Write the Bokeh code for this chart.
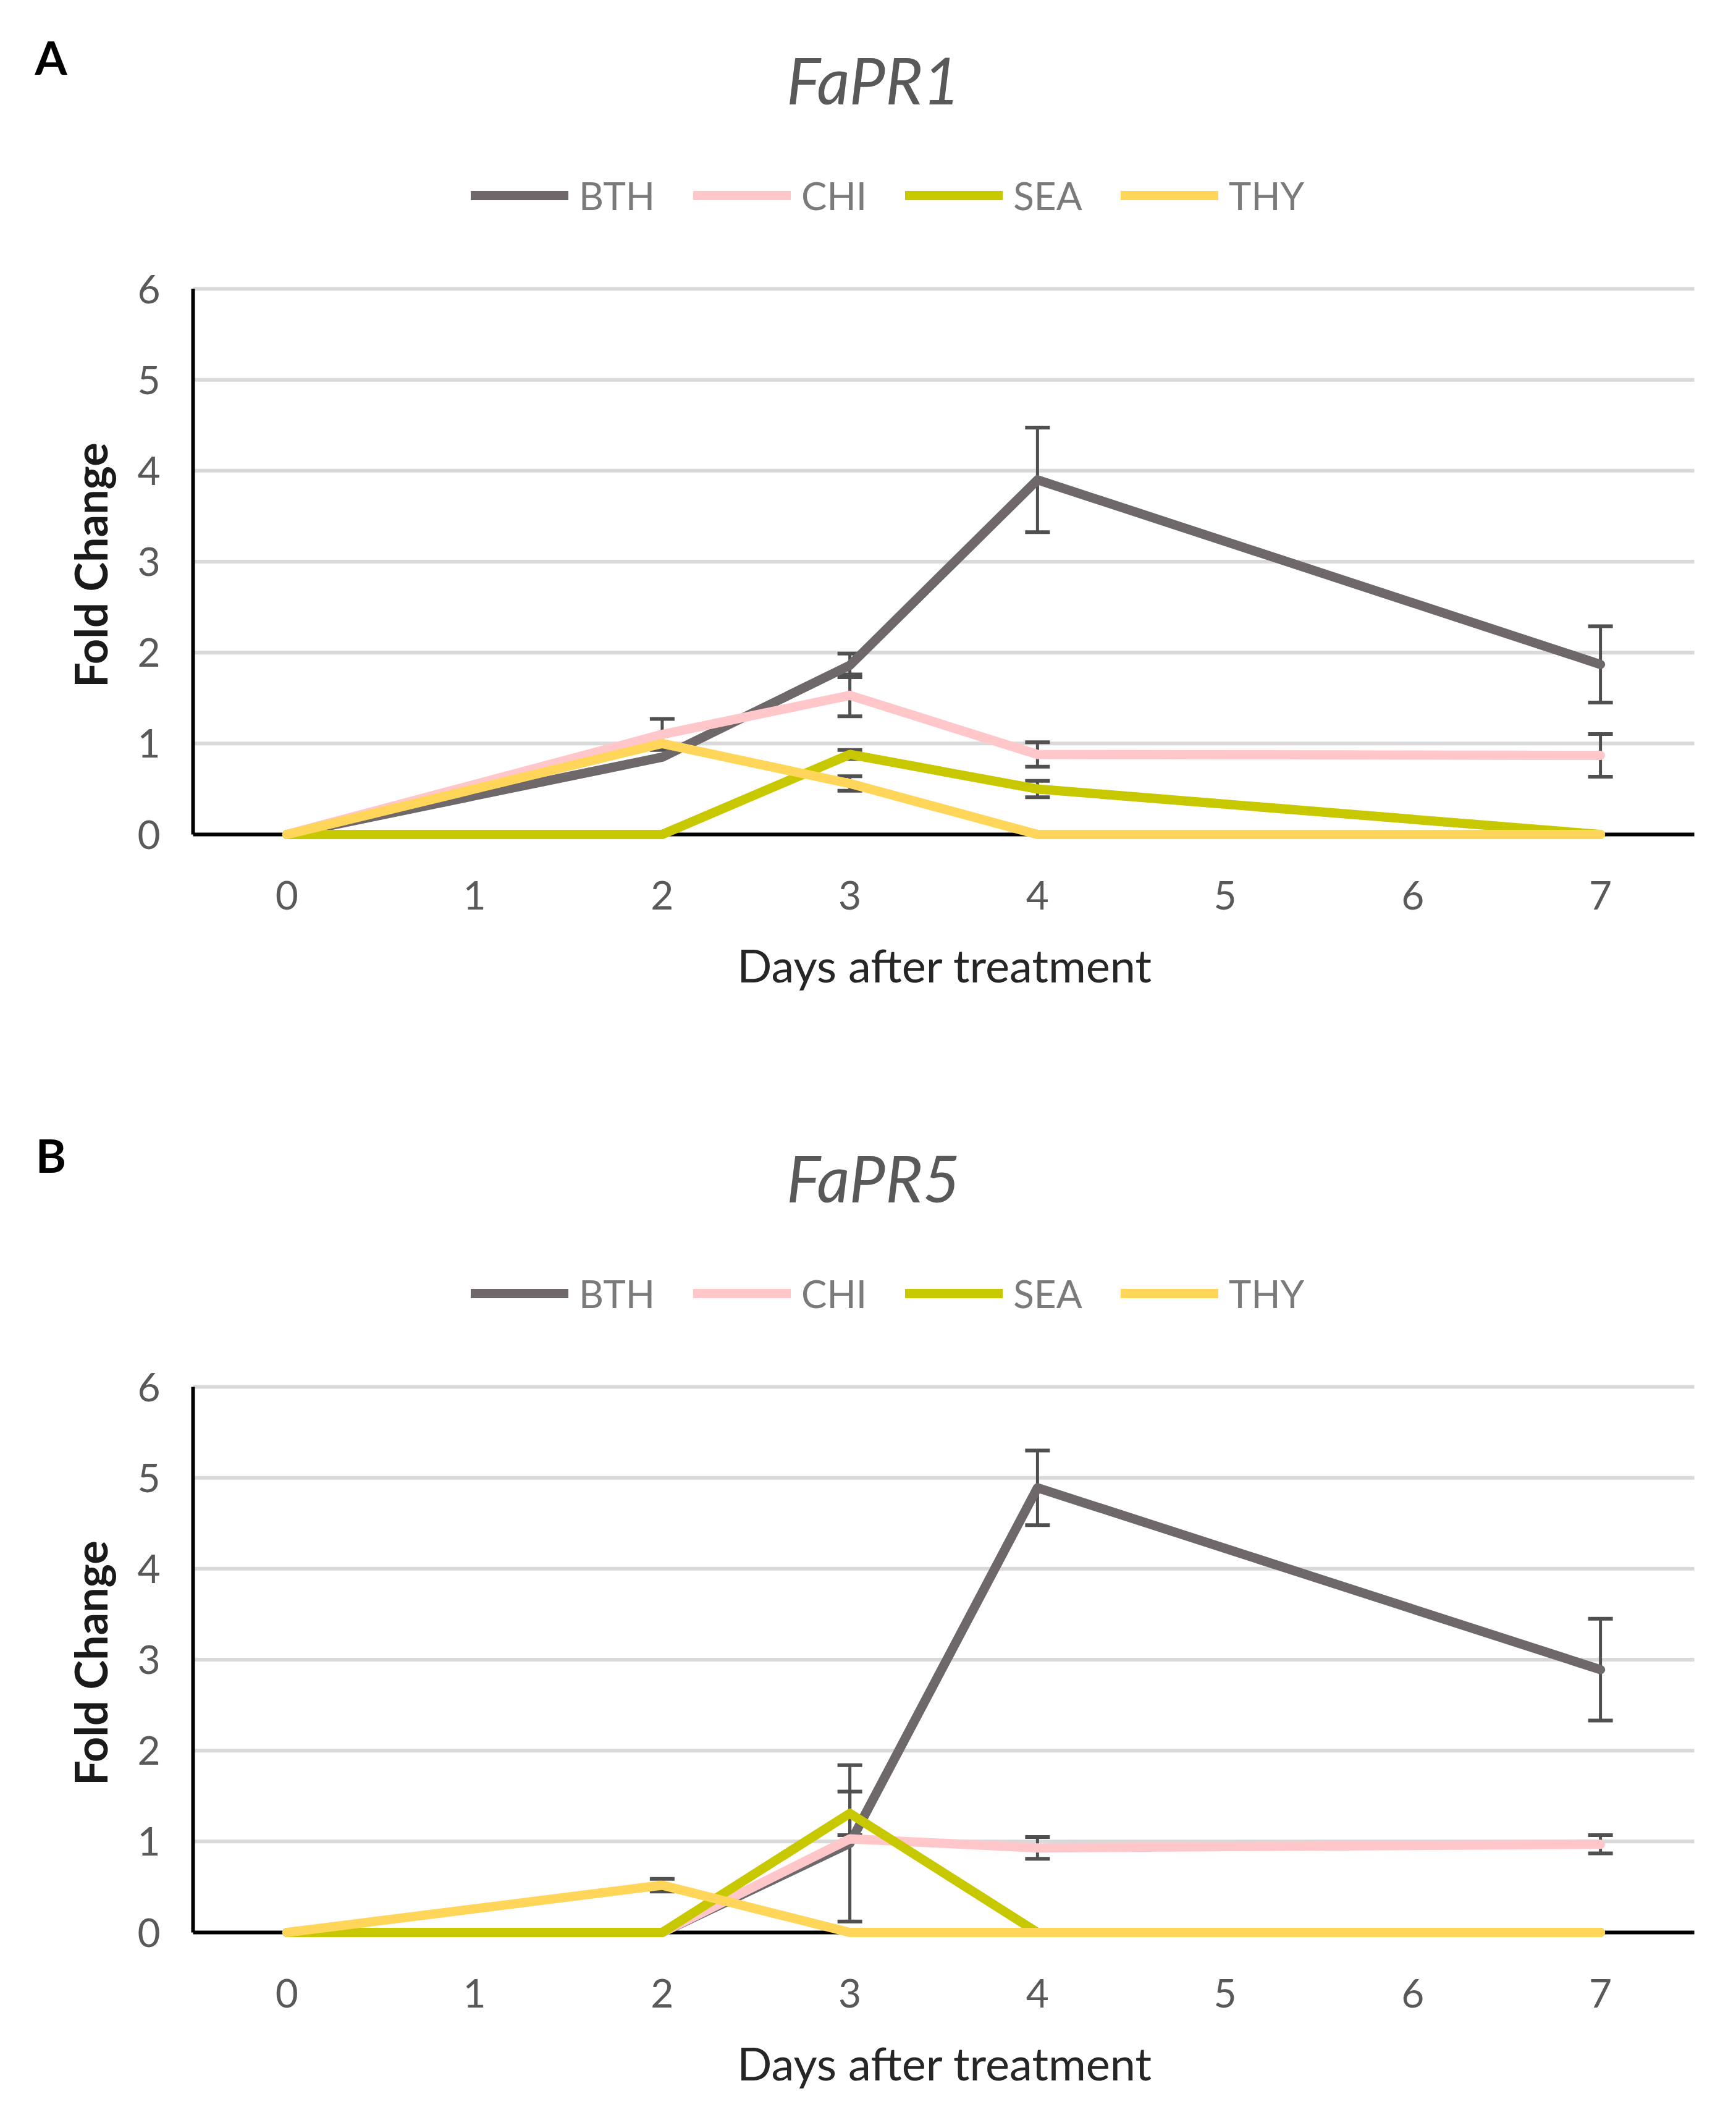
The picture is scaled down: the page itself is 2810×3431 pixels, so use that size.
import math
from bokeh.plotting import figure
from bokeh.models import (ColumnDataSource, Whisker, TeeHead, Label, Legend,
                          LegendItem, FixedTicker, Range1d)
from bokeh.layouts import column
from bokeh.embed import file_html
from bokeh.resources import INLINE

# ---------------- data ----------------
days = [0, 2, 3, 4, 7]
day_ticks = [0, 1, 2, 3, 4, 5, 6, 7]
fold_ticks = [0, 1, 2, 3, 4, 5, 6]
series_names = ["BTH", "CHI", "SEA", "THY"]
series_colors = ["#6e686a", "#ffc7c9", "#c8c800", "#ffd55a"]

# FaPR1 (panel A)
pr1_bth = [0, 0.85, 1.86, 3.90, 1.87]
pr1_bth_err = [0, 0, 0.13, 0.575, 0.42]
pr1_chi = [0, 1.10, 1.53, 0.88, 0.87]
pr1_chi_err = [0, 0.17, 0.23, 0.135, 0.235]
pr1_sea = [0, 0, 0.88, 0.50, 0]
pr1_sea_err = [0, 0, 0.05, 0.09, 0]
pr1_thy = [0, 1.00, 0.56, 0, 0]
pr1_thy_err = [0, 0, 0.08, 0, 0]

# FaPR5 (panel B)
pr5_bth = [0, 0, 0.98, 4.89, 2.89]
pr5_bth_err = [0, 0, 0.86, 0.41, 0.56]
pr5_chi = [0, 0, 1.03, 0.93, 0.97]
pr5_chi_err = [0, 0, 0, 0.12, 0.10]
pr5_sea = [0, 0, 1.31, 0, 0]
pr5_sea_err = [0, 0, 0.24, 0, 0]
pr5_thy = [0, 0.52, 0, 0, 0]
pr5_thy_err = [0, 0.07, 0, 0, 0]

# ---------------- layout constants (pixels) ----------------
FONT = "Lato"
W = 2794
X_LO, X_HI = -0.5, 7.5          # category axis extent
AX_LEFT_PX, AX_RIGHT_PX = 312, 2742
Y_TOP_PX, Y_ZERO_PX = 467, 1350  # pixel rows of y=6 and y=0
LINE_W = 15


def make_panel(letter, gene, values, errors, height):
    px_x = (AX_RIGHT_PX - AX_LEFT_PX) / (X_HI - X_LO)
    px_y = (Y_ZERO_PX - Y_TOP_PX) / (fold_ticks[-1] - fold_ticks[0])
    x_start = X_LO - AX_LEFT_PX / px_x
    x_end = x_start + W / px_x
    y_end = fold_ticks[-1] + Y_TOP_PX / px_y
    y_start = -(height - Y_ZERO_PX) / px_y

    p = figure(width=W, height=height,
               x_range=Range1d(x_start, x_end), y_range=Range1d(y_start, y_end),
               output_backend="svg", toolbar_location=None, title=None,
               min_border=0)
    p.outline_line_color = None
    p.grid.visible = False

    # horizontal gridlines and the zero baseline
    p.segment(x0=X_LO, x1=X_HI, y0=fold_ticks[1:], y1=fold_ticks[1:],
              line_color="#d9d9d9", line_width=6, level="underlay")
    p.segment(x0=X_LO, x1=X_HI, y0=[0], y1=[0],
              line_color="black", line_width=6, level="underlay")

    # axes fixed inside the canvas
    p.xaxis.fixed_location = 0
    p.yaxis.fixed_location = X_LO
    p.xaxis.ticker = FixedTicker(ticks=day_ticks)
    p.yaxis.ticker = FixedTicker(ticks=fold_ticks)
    p.xaxis.bounds = (X_LO, X_HI)
    p.yaxis.bounds = (fold_ticks[0], fold_ticks[-1])
    p.xaxis.axis_line_color = None
    p.yaxis.axis_line_color = "black"
    p.yaxis.axis_line_width = 6
    for ax in (p.xaxis[0], p.yaxis[0]):
        ax.major_tick_line_color = None
        ax.minor_tick_line_color = None
        ax.major_label_text_font = FONT
        ax.major_label_text_font_size = "64px"
        ax.major_label_text_color = "#595959"
    p.xaxis.major_label_standoff = 69
    p.yaxis.major_label_standoff = 47

    # axis titles
    p.add_layout(Label(x=1529, y=height - 1561, x_units="screen", y_units="screen",
                       text="Days after treatment", text_font=FONT,
                       text_font_size="74px", text_color="#262626",
                       text_align="center", text_baseline="middle"))
    p.add_layout(Label(x=145, y=height - 914, x_units="screen", y_units="screen",
                       text="Fold Change", text_font=FONT, angle=math.pi / 2,
                       text_font_size="72px", text_font_style="bold",
                       text_color="#1a1a1a", text_align="center",
                       text_baseline="middle"))

    # panel letter and gene title
    p.add_layout(Label(x=82, y=height - 91, x_units="screen", y_units="screen",
                       text=letter, text_font=FONT, text_font_size="75px",
                       text_font_style="bold", text_color="black",
                       text_align="center", text_baseline="middle"))
    p.add_layout(Label(x=1413, y=height - 128, x_units="screen", y_units="screen",
                       text=gene, text_font=FONT, text_font_size="104px",
                       text_font_style="italic", text_color="#595959",
                       text_align="center", text_baseline="middle"))

    # error bars (below the lines)
    for vals, errs in zip(values, errors):
        xs = [d for d, e in zip(days, errs) if e > 0]
        up = [v + e for v, e in zip(vals, errs) if e > 0]
        lo = [v - e for v, e in zip(vals, errs) if e > 0]
        if not xs:
            continue
        src = ColumnDataSource(dict(x=xs, upper=up, lower=lo))
        w = Whisker(source=src, base="x", upper="upper", lower="lower",
                    line_color="#505050", line_width=5, level="underlay",
                    upper_head=TeeHead(size=40, line_width=6, line_color="#505050"),
                    lower_head=TeeHead(size=40, line_width=6, line_color="#505050"))
        p.add_layout(w)

    # series lines
    items = []
    for name, color, vals in zip(series_names, series_colors, values):
        r = p.line(days, vals, line_color=color, line_width=LINE_W,
                   line_join="round", line_cap="round")
        items.append(LegendItem(label=name, renderers=[r]))

    legend = Legend(items=items, orientation="horizontal",
                    location=(762, height - 317 - 36),
                    glyph_width=158, glyph_height=72, label_height=72,
                    label_standoff=17, spacing=62, padding=0, margin=0,
                    border_line_color=None, background_fill_alpha=0,
                    label_text_font=FONT, label_text_font_size="62px",
                    label_text_color="#7a7a7a")
    p.add_layout(legend, "center")
    return p


pA = make_panel("A", "FaPR1",
                [pr1_bth, pr1_chi, pr1_sea, pr1_thy],
                [pr1_bth_err, pr1_chi_err, pr1_sea_err, pr1_thy_err], 1777)
pB = make_panel("B", "FaPR5",
                [pr5_bth, pr5_chi, pr5_sea, pr5_thy],
                [pr5_bth_err, pr5_chi_err, pr5_sea_err, pr5_thy_err], 1638)

layout = column(pA, pB, spacing=0)
open("out.html", "w").write(file_html(layout, INLINE))
